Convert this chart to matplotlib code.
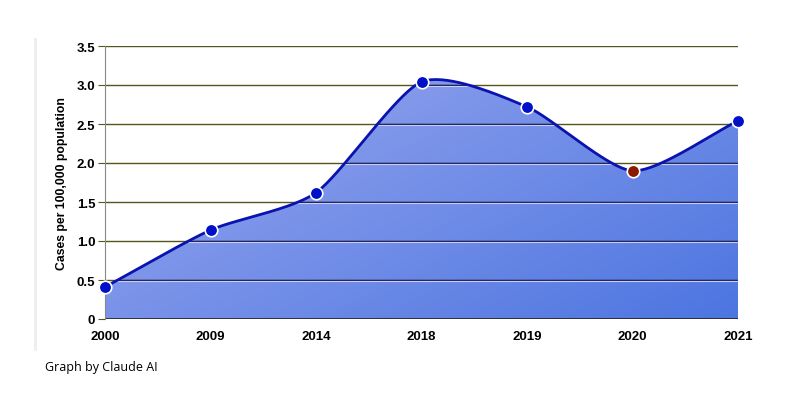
import numpy as np
import matplotlib.pyplot as plt
from matplotlib.lines import Line2D

years = ['2000', '2009', '2014', '2018', '2019', '2020', '2021']
cases = [0.41, 1.14, 1.62, 3.04, 2.72, 1.90, 2.54]
highlight = '2020'
y_ticks = [0, 0.5, 1.0, 1.5, 2.0, 2.5, 3.0, 3.5]
y_tick_labels = ['0', '0.5', '1.0', '1.5', '2.0', '2.5', '3.0', '3.5']


def cardinal(x, y, s=0.35, steps=40):
    # cubic hermite through the points, tangents scaled by s
    x = np.asarray(x, float)
    y = np.asarray(y, float)
    px = np.concatenate([[2 * x[0] - x[1]], x, [2 * x[-1] - x[-2]]])
    py = np.concatenate([[2 * y[0] - y[1]], y, [2 * y[-1] - y[-2]]])
    xs, ys = [], []
    t = np.linspace(0, 1, steps, endpoint=False)
    h00 = 2 * t ** 3 - 3 * t ** 2 + 1
    h10 = t ** 3 - 2 * t ** 2 + t
    h01 = -2 * t ** 3 + 3 * t ** 2
    h11 = t ** 3 - t ** 2
    for i in range(1, len(px) - 2):
        for p, out in ((px, xs), (py, ys)):
            m1 = s * (p[i + 1] - p[i - 1])
            m2 = s * (p[i + 2] - p[i])
            out.extend(h00 * p[i] + h10 * m1 + h01 * p[i + 1] + h11 * m2)
    xs.append(x[-1])
    ys.append(y[-1])
    return np.array(xs), np.array(ys)


plt.rcParams['font.family'] = ['Liberation Sans', 'DejaVu Sans']

fig = plt.figure(figsize=(8.05, 4.14), dpi=100)
ax = fig.add_axes([105 / 805, 1 - 320 / 414, (738 - 105) / 805, (320 - 47) / 414])

xpos = np.arange(len(years))
sx, sy = cardinal(xpos, cases)

# gradient fill under the curve
fill = ax.fill_between(sx, sy, 0, color='none', zorder=1)
clip = fill.get_paths()[0]
gx, gy = np.meshgrid(np.linspace(0, 1, 200), np.linspace(0, 1, 200))
grad = 0.55 * gx + 0.45 * (1 - gy)
top = np.array([0.62, 0.67, 0.94])
bot = np.array([0.30, 0.46, 0.88])
img = top[None, None, :] * (1 - grad[..., None]) + bot[None, None, :] * grad[..., None]
im = ax.imshow(img, extent=[0, 6, 0, 3.5], aspect='auto', origin='lower', zorder=1)
im.set_clip_path(clip, transform=ax.transData)

for yv in y_ticks[1:]:
    ax.axhline(yv, color='#55551c', lw=1.0, zorder=2)
    inner = ax.axhline(yv, color='#1a1e60', lw=1.0, zorder=2)
    inner.set_clip_path(clip, transform=ax.transData)
    light = ax.plot([0, 6], [yv - 0.012, yv - 0.012], color='#c8ccf8', lw=0.8, zorder=2)[0]
    light.set_clip_path(clip, transform=ax.transData)
ax.axhline(0, color='#222222', lw=1.2, zorder=2)

ax.plot(sx, sy, color='#0a12b0', lw=2.0, zorder=3, clip_on=False)
for i, yr in enumerate(years):
    c = '#8a1a00' if yr == highlight else '#0010c8'
    ax.plot(xpos[i], cases[i], 'o', ms=9, mfc=c, mec='white', mew=1.2,
            zorder=4, clip_on=False)

ax.set_xlim(0, 6)
ax.set_ylim(0, 3.5)
ax.set_xticks(xpos)
ax.set_xticklabels(years, fontsize=9.5, fontweight='bold')
ax.set_yticks(y_ticks)
ax.set_yticklabels(y_tick_labels, fontsize=9.5, fontweight='bold')
ax.tick_params(axis='x', length=0, pad=8)
ax.tick_params(axis='y', length=5, color='#55551c', pad=2)
for s in ['top', 'right', 'bottom']:
    ax.spines[s].set_visible(False)
ax.spines['left'].set_color('#888888')
ax.set_ylabel('Cases per 100,000 population', fontsize=8.8, fontweight='bold', labelpad=6)

fig.add_artist(Line2D([35 / 805, 35 / 805], [1 - 40 / 414, 1 - 350 / 414],
                      color='#eeeeee', lw=2))
fig.text(45 / 805, 1 - 368 / 414, 'Graph by Claude AI', fontsize=9,
         family=['Open Sans', 'DejaVu Sans'], va='center', ha='left')

fig.savefig('out.png', dpi=100)
